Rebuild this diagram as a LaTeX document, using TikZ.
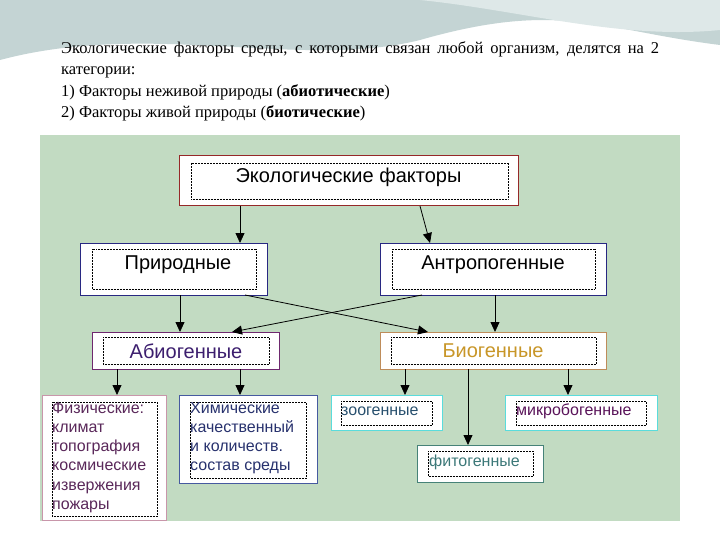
\documentclass[tikz,border=0pt]{standalone}
\usepackage{fontspec}
\setmainfont{Liberation Serif}
\newfontfamily\arial{Liberation Sans}
\usetikzlibrary{arrows.meta}
\definecolor{panel}{RGB}{194,219,194}
\definecolor{wave}{RGB}{196,212,212}
\definecolor{wave2}{RGB}{222,232,232}
\definecolor{cEco}{RGB}{150,40,40}
\definecolor{cBlue}{RGB}{40,40,130}
\definecolor{cAbi}{RGB}{110,40,110}
\definecolor{tAbi}{RGB}{60,30,110}
\definecolor{cBio}{RGB}{190,140,90}
\definecolor{tBio}{RGB}{200,150,40}
\definecolor{cFiz}{RGB}{200,150,170}
\definecolor{tFiz}{RGB}{90,40,90}
\definecolor{cHim}{RGB}{70,90,160}
\definecolor{tHim}{RGB}{40,50,110}
\definecolor{cCyan}{RGB}{90,220,220}
\definecolor{tZoo}{RGB}{40,80,110}
\definecolor{tMik}{RGB}{90,20,90}
\definecolor{cFit}{RGB}{70,130,120}
\definecolor{tFit}{RGB}{60,120,120}
\begin{document}
\begin{tikzpicture}[x=1pt,y=-1pt,
  box/.style={draw=#1,line width=1pt,fill=white},
  inner/.style={draw=black,densely dotted,line width=0.5pt},
  lbl/.style={font=\arial\fontsize{20}{20}\selectfont},
  sm/.style={font=\arial\fontsize{16}{19.2}\selectfont,align=left,anchor=north west,inner sep=0pt},
  arr/.style={-{Triangle[length=10pt,width=9pt]},line width=0.8pt}]
\useasboundingbox (0,0) rectangle (720,540);
\fill[white] (0,0) rectangle (720,540);
\fill[wave] (0,0) -- (720,0) -- (720,45) .. controls (600,30) and (560,0) .. (420,40) .. controls (300,70) and (150,20) .. (0,60) -- cycle;
\fill[wave2] (420,0) .. controls (520,10) and (620,40) .. (720,30) -- (720,0) -- cycle;
\node[anchor=north west,text width=598pt,align=justify,inner sep=0pt,font=\fontsize{16.5}{21.5}\selectfont] (intro) at (61,41)
{Экологические факторы среды, с которыми связан любой организм, делятся на 2 категории:\\
1) Факторы неживой природы (\textbf{абиотические})\\
2) Факторы живой природы (\textbf{биотические})};
\fill[panel] (40,135) rectangle (680,521);
% boxes
\draw[box=cEco] (179,156) rectangle (518,206);
\draw[inner] (191,163) rectangle (508,199);
\node[lbl] (eco) at (348.5,177) {Экологические факторы};
\coordinate (ecoB1) at (240,206); \coordinate (ecoB2) at (420,206);
\draw[box=cBlue] (80,243) rectangle (267,295);
\draw[inner] (92,249) rectangle (256,289);
\node[lbl] (pri) at (178,265) {Природные};
\draw[box=cBlue] (380,243) rectangle (606,295);
\draw[inner] (392,249) rectangle (595,289);
\node[lbl] (ant) at (493,265) {Антропогенные};
\draw[box=cAbi] (92,332) rectangle (279,369);
\draw[inner] (103,337) rectangle (269,364);
\node[lbl,text=tAbi] (abi) at (186,351) {Абиогенные};
\draw[box=cBio] (380,332) rectangle (606,369);
\draw[inner] (391,337) rectangle (596,364);
\node[lbl,text=tBio] (bio) at (493,351) {Биогенные};
\draw[box=cFiz] (42,395) rectangle (166,520);
\draw[inner] (52,402) rectangle (157,516);
\node[sm,text=tFiz] (fiz) at (52,402) {Физические:\\климат\\топография\\космические\\извержения\\пожары};
\draw[box=cHim] (179,395) rectangle (317,483);
\draw[inner] (190,402) rectangle (306,478);
\node[sm,text=tHim] (him) at (190,402) {Химические\\качественный\\и количеств.\\состав среды};
\draw[box=cCyan] (331,395) rectangle (442,430);
\draw[inner] (341,401) rectangle (432,425);
\node[sm,text=tZoo,anchor=west] (zoo) at (341,411) {зоогенные};
\draw[box=cCyan] (505,395) rectangle (657,430);
\draw[inner] (516,401) rectangle (646,425);
\node[sm,text=tMik,anchor=west] (mik) at (516,411) {микробогенные};
\draw[box=cFit] (417,445) rectangle (543,482);
\draw[inner] (428,451) rectangle (533,476);
\node[sm,text=tFit,anchor=west] (fit) at (429,462) {фитогенные};
% connectors
\draw[arr] (ecoB1) -- (240,243);
\draw[arr] (ecoB2) -- (430,243);
\draw[arr] (180,295) -- (180,332);
\draw[arr] (245,295) -- (428,332);
\draw[arr] (422,295) -- (232,332);
\draw[arr] (495,295) -- (495,332);
\draw[arr] (117,369) -- (117,395);
\draw[arr] (240,369) -- (240,395);
\draw[arr] (405,369) -- (405,395);
\draw[arr] (468,369) -- (468,445);
\draw[arr] (568,369) -- (568,395);
\end{tikzpicture}
\end{document}
